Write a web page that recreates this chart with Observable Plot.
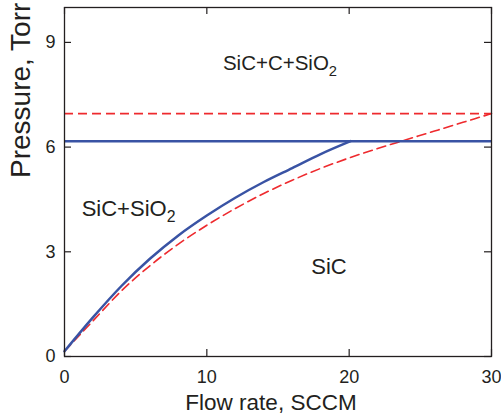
<!DOCTYPE html>
<html><head><meta charset="utf-8">
<script src="https://cdn.jsdelivr.net/npm/d3@7"></script>
<script src="https://cdn.jsdelivr.net/npm/@observablehq/plot@0.6"></script>
<style>
body{margin:0;background:#fff}
svg{font-family:"Liberation Sans",Arial,sans-serif}
</style>
</head><body><div id="chart"></div>
<script>
const flowBlue  = [0, 2, 4, 6, 8, 10, 12, 14, 16, 18, 20.1];
const pressBlue = [0.15, 1.12, 2.02, 2.8, 3.47, 4.04, 4.55, 5.0, 5.4, 5.8, 6.17];
const flowRed   = [0, 2, 4, 6, 8, 10, 12, 14, 16, 18, 20, 22, 24, 26, 28, 30];
const pressRed  = [0.15, 1.02, 1.88, 2.6, 3.22, 3.76, 4.24, 4.67, 5.05, 5.39, 5.69, 5.96, 6.21, 6.46, 6.71, 6.96];
const blueLimit = 6.17;
const redLimit = 6.96;
const xTicks = [0, 10, 20, 30];
const yTicks = [0, 3, 6, 9];
const regionNames = ["SiC+C+SiO2", "SiC+SiO2", "SiC"];
const regionFlow  = [15.14, 4.5, 18.58];
const regionPress = [8.39, 4.23, 2.58];

const blue = "#3953a4", red = "#ee2a2e", ink = "#231f20";
const W = 501, H = 414, mT = 7, mB = 58, mL = 64, mR = 10;
const frameW = W - mL - mR, frameH = H - mT - mB, tickLen = 7;
const blueData = flowBlue.map((x, i) => ({x, y: pressBlue[i]}));
const redData = flowRed.map((x, i) => ({x, y: pressRed[i]}));
const regions = regionNames.map((t, i) => ({t, x: regionFlow[i], y: regionPress[i]}));
const tickStyle = {stroke: ink, strokeWidth: 1.2};

const svg = Plot.plot({
  width: W, height: H,
  marginTop: mT, marginBottom: mB, marginLeft: mL, marginRight: mR,
  x: {domain: [0, 30]},
  y: {domain: [0, 10]},
  marks: [
    Plot.ruleY([redLimit], {stroke: red, strokeWidth: 1.6, strokeDasharray: "9,5"}),
    Plot.line(redData, {x: "x", y: "y", curve: "monotone-x", stroke: red, strokeWidth: 1.6, strokeDasharray: "9,5"}),
    Plot.ruleY([blueLimit], {stroke: blue, strokeWidth: 2.5}),
    Plot.line(blueData, {x: "x", y: "y", curve: "monotone-x", stroke: blue, strokeWidth: 2.5}),
    Plot.text(regions.slice(0, 1), {x: "x", y: "y", text: "t", fontSize: 20.5, fill: ink}),
    Plot.text(regions.slice(1), {x: "x", y: "y", text: "t", fontSize: 22, fill: ink}),
    Plot.frame({stroke: ink, strokeWidth: 1.3}),
    Plot.ruleX(xTicks, {x: d => d, insetTop: frameH - tickLen, ...tickStyle}),
    Plot.ruleX(xTicks, {x: d => d, insetBottom: frameH - tickLen, ...tickStyle}),
    Plot.ruleY(yTicks, {y: d => d, insetRight: frameW - tickLen, ...tickStyle}),
    Plot.ruleY(yTicks, {y: d => d, insetLeft: frameW - tickLen, ...tickStyle}),
    Plot.axisX({ticks: xTicks, tickSize: 0, tickPadding: 14, fontSize: 18, label: null, color: ink}),
    Plot.axisY({ticks: yTicks, tickSize: 0, tickPadding: 9, fontSize: 18, label: null, color: ink}),
    Plot.text(["Flow rate, SCCM"], {text: d => d, frameAnchor: "bottom", dy: 38, dx: -7, lineAnchor: "top", fontSize: 22.5, fill: ink}),
    Plot.text(["Pressure, Torr"], {text: d => d, frameAnchor: "left", rotate: -90, dx: -43, dy: -4, lineAnchor: "middle", fontSize: 28, fill: ink})
  ]
});

d3.select(svg).selectAll("text").each(function () {
  const t = this.textContent;
  if (/O2$/.test(t)) {
    const s = d3.select(this);
    s.text(null);
    s.append("tspan").text(t.slice(0, -1));
    s.append("tspan").attr("dy", "0.4em").attr("font-size", "0.72em").text("2");
  }
});
document.getElementById("chart").appendChild(svg);
</script>
</body></html>
